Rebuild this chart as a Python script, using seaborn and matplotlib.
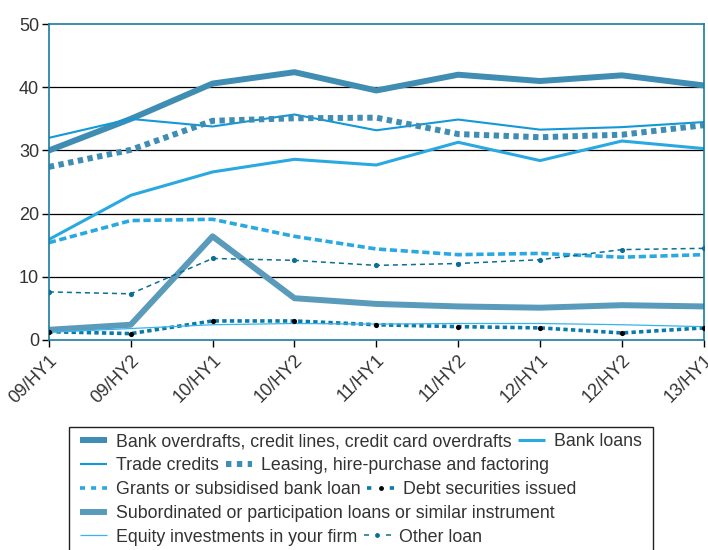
import numpy as np
import pandas as pd
from matplotlib import pyplot as plt
from matplotlib.lines import Line2D
from matplotlib.patches import Rectangle
import seaborn as sns

periods = ['09/HY1', '09/HY2', '10/HY1', '10/HY2', '11/HY1', '11/HY2', '12/HY1', '12/HY2', '13/HY1']

bank_overdrafts = [30.0, 35.0, 40.6, 42.4, 39.5, 42.0, 41.0, 41.9, 40.3]
bank_loans = [15.9, 22.9, 26.6, 28.6, 27.7, 31.3, 28.4, 31.5, 30.3]
trade_credits = [32.0, 35.0, 33.8, 35.7, 33.2, 34.9, 33.3, 33.7, 34.5]
leasing = [27.4, 30.1, 34.7, 35.1, 35.2, 32.6, 32.1, 32.5, 34.0]
grants = [15.4, 18.9, 19.1, 16.4, 14.4, 13.5, 13.7, 13.1, 13.5]
debt_securities = [1.3, 1.0, 3.0, 3.0, 2.4, 2.1, 1.9, 1.1, 1.9]
subordinated = [1.6, 2.4, 16.4, 6.6, 5.7, 5.3, 5.1, 5.5, 5.3]
equity = [1.2, 1.8, 2.4, 2.6, 2.5, 2.6, 2.6, 2.4, 2.1]
other_loan = [7.6, 7.3, 12.9, 12.6, 11.8, 12.1, 12.7, 14.3, 14.5]

# name, values, colour, linewidth, dashes in plot, dashes in legend, marker colour
series = [
    ('Bank overdrafts, credit lines, credit card overdrafts', bank_overdrafts, '#3f8db3', 4.3, None, None, None),
    ('Bank loans', bank_loans, '#2aa8e2', 2.2, None, None, None),
    ('Trade credits', trade_credits, '#1398d8', 1.5, None, None, None),
    ('Leasing, hire-purchase and factoring', leasing, '#3f8db3', 4.3, (0.9, 0.75), (0.9, 0.92), None),
    ('Grants or subsidised bank loan', grants, '#2aa8e2', 2.6, (2.0, 1.0), (1.4, 1.67), None),
    ('Debt securities issued', debt_securities, '#0a7aa8', 2.6, (1.2, 0.9), (1.2, 5.1), 'black'),
    ('Subordinated or participation loans or similar instrument', subordinated, '#5a9bbb', 4.3, None, None, None),
    ('Equity investments in your firm', equity, '#38b3ec', 0.9, None, None, None),
    ('Other loan', other_loan, '#0b6e94', 1.1, (3.3, 2.6), (3.3, 11.1), '#0b6e94'),
]

sns.set_style('white')
plt.rcParams['font.family'] = ['Liberation Sans', 'DejaVu Sans']

fig = plt.figure(figsize=(7.08, 5.5), dpi=100)
ax = fig.add_axes([0.069, 0.382, 0.925, 0.574])

handles = []
for name, vals, color, lw, dashes, leg_dashes, mcol in series:
    df = pd.DataFrame({'period': periods, 'value': vals})
    kw = {}
    if dashes is not None:
        kw['dashes'] = dashes
    sns.lineplot(data=df, x='period', y='value', ax=ax, color=color, linewidth=lw,
                 sort=False, **kw)
    if mcol is not None:
        sns.scatterplot(data=df, x='period', y='value', ax=ax, color=mcol, s=14,
                        linewidth=0, zorder=5)
    h = Line2D([0, 1], [0, 0], color=color, linewidth=lw,
               solid_capstyle='butt', dash_capstyle='butt')
    if leg_dashes is not None:
        h.set_dashes(leg_dashes)
    if mcol is not None:
        h.set_marker('o')
        h.set_markersize(3.5)
        h.set_markerfacecolor(mcol)
        h.set_markeredgewidth(0)
        h.set_markevery([1])
    handles.append((h, name))

ax.set_xlim(0, len(periods) - 1)
ax.set_ylim(0, 50)
ax.set_yticks([0, 10, 20, 30, 40, 50])
ax.set_xlabel('')
ax.set_ylabel('')
for y in [10, 20, 30, 40]:
    ax.axhline(y, color='black', linewidth=0.9, zorder=0)
for s in ax.spines.values():
    s.set_color('#1a7aa0')
    s.set_linewidth(1.2)
ax.tick_params(axis='both', which='both', length=5, color='black', width=1,
               labelsize=13, labelcolor='#333333', direction='out')
ax.tick_params(axis='x', bottom=True)
ax.tick_params(axis='y', left=True, pad=2)
plt.setp(ax.get_xticklabels(), rotation=45, ha='right', rotation_mode='anchor')

# legend: frame plus one legend per row
fig.patches.append(Rectangle((69 / 708, -0.01), 584 / 708, (550 - 427) / 550 + 0.01,
                             transform=fig.transFigure, fill=False,
                             edgecolor='#222222', linewidth=1))
rows = [[0, 1], [2, 3], [4, 5], [6], [7, 8]]
for i, row in enumerate(rows):
    yc = 1 - (442 + 23.8 * i) / 550
    leg = fig.legend([handles[k][0] for k in row], [handles[k][1] for k in row],
                     loc='center left', bbox_to_anchor=(80 / 708, yc), ncol=len(row),
                     frameon=False, fontsize=12.8, handlelength=1.5, handletextpad=0.5,
                     columnspacing=0.4, borderpad=0, borderaxespad=0)
    for t in leg.get_texts():
        t.set_color('#333333')

fig.savefig('out.png', dpi=100)
